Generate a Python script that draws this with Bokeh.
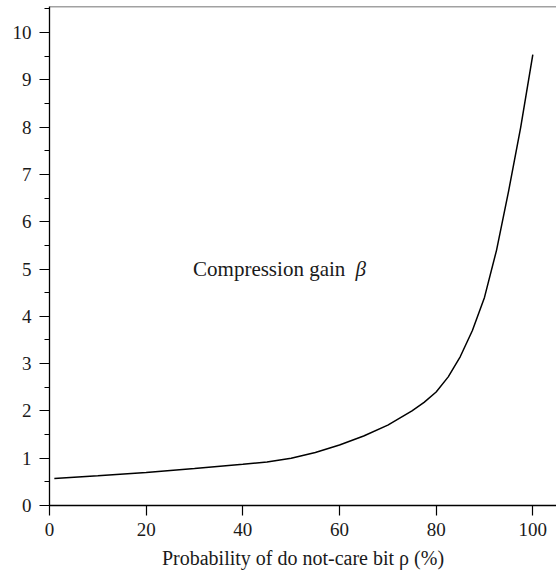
from bokeh.plotting import figure
from bokeh.models import Range1d, SingleIntervalTicker, Span, Label
from bokeh.embed import file_html
from bokeh.resources import INLINE

rho = [1, 10, 20, 30, 40, 45, 50, 55, 60, 65, 70, 75, 77.5, 80, 82.5, 85, 87.5, 90, 92.5, 95, 97.5, 100]
beta = [0.57, 0.63, 0.70, 0.78, 0.87, 0.92, 1.00, 1.12, 1.28, 1.47, 1.70, 2.00, 2.18, 2.40, 2.72, 3.15, 3.70, 4.40, 5.40, 6.65, 8.00, 9.53]

x_label = "Probability of do not-care bit \u03c1 (%)"
curve_label = "Compression gain"
curve_symbol = "\u03b2"

FONT = "Liberation Serif"

p = figure(width=556, height=576, output_backend="svg", toolbar_location=None,
           x_range=Range1d(0, 104.9), y_range=Range1d(0, 10.55),
           min_border_left=49, min_border_right=0, min_border_top=6, min_border_bottom=71)
p.outline_line_color = None
p.grid.visible = False
p.background_fill_color = "white"

p.line(rho, beta, line_color="black", line_width=1.5)

p.xaxis.ticker = SingleIntervalTicker(interval=20, num_minor_ticks=0)
p.yaxis.ticker = SingleIntervalTicker(interval=1, num_minor_ticks=2)
for ax in (p.xaxis, p.yaxis):
    ax.axis_line_color = "black"
    ax.axis_line_width = 1.3
    ax.major_tick_line_color = "black"
    ax.major_tick_line_width = 1.2
    ax.major_tick_out = 10
    ax.major_tick_in = 0
    ax.minor_tick_line_color = "black"
    ax.minor_tick_line_width = 1.2
    ax.minor_tick_out = 5
    ax.minor_tick_in = 0
    ax.major_label_text_font = FONT
    ax.major_label_text_font_size = "19px"
    ax.major_label_text_color = "#1a1a1a"
p.yaxis.major_label_standoff = 8
p.xaxis.major_label_standoff = 7
p.xaxis.axis_label = x_label
p.xaxis.axis_label_text_font = FONT
p.xaxis.axis_label_text_font_size = "20px"
p.xaxis.axis_label_text_font_style = "normal"
p.xaxis.axis_label_text_color = "#1a1a1a"
p.xaxis.axis_label_standoff = 8

p.add_layout(Span(location=10.55, dimension="width", line_color="#444444", line_width=1.5))

p.add_layout(Label(x=29.7, y=5.0, text=curve_label, text_font=FONT, text_font_size="21px",
                   text_color="#1a1a1a", text_baseline="middle", text_align="left"))
p.add_layout(Label(x=63.3, y=5.0, text=curve_symbol, text_font=FONT, text_font_size="21px",
                   text_font_style="italic",
                   text_color="#1a1a1a", text_baseline="middle", text_align="left"))

open("out.html", "w").write(file_html(p, INLINE))
